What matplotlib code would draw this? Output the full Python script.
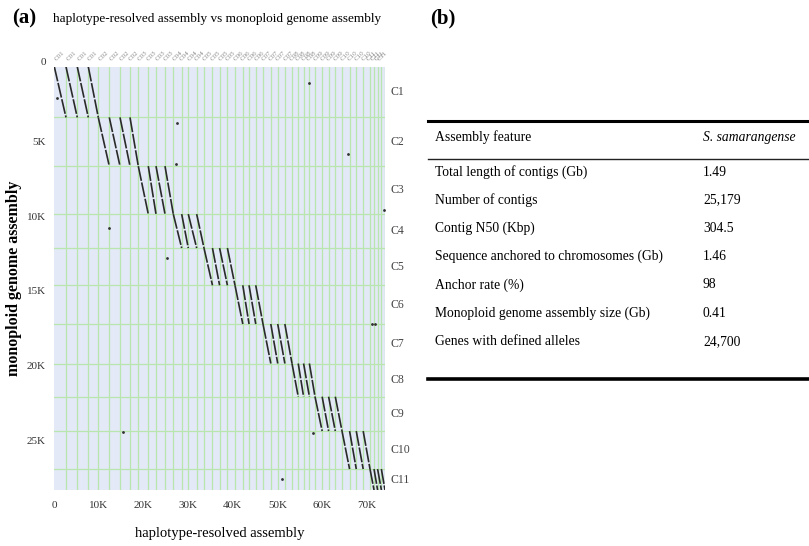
import numpy as np
import matplotlib
matplotlib.use("Agg")
import matplotlib.pyplot as plt
from matplotlib.lines import Line2D

# monoploid chromosome lengths (K anchors)
chr_names = ["C1", "C2", "C3", "C4", "C5", "C6", "C7", "C8", "C9", "C10", "C11"]
chr_len = [3.39, 3.26, 3.21, 2.27, 2.49, 2.59, 2.64, 2.22, 2.30, 2.54, 1.40]

# haplotype chromosome lengths (K), 4 haplotypes per chromosome
hap_len = [2.62, 2.53, 2.47, 2.24,
           2.47, 2.40, 2.24, 1.86,
           2.24, 1.73, 2.02, 1.86,
           1.88, 1.48, 1.88, 1.64,
           1.90, 1.60, 1.75, 1.70,
           1.75, 1.40, 1.50, 1.63,
           1.75, 1.55, 1.60, 1.60,
           1.40, 1.20, 1.30, 1.26,
           1.60, 1.45, 1.50, 1.50,
           1.70, 1.50, 1.55, 1.53,
           0.90, 0.80, 0.85, 0.81]
hap_labels = ["C%02d" % (i // 4 + 1) for i in range(44)]

# stray hits off the diagonal (x, y in K)
stray_x = [0.55, 27.4, 27.2, 57.0, 65.9, 12.3, 25.3, 71.2, 72.0, 15.3, 57.9, 51.1, 74.0]
stray_y = [2.07, 3.79, 6.50, 1.10, 5.86, 10.8, 12.8, 17.2, 17.2, 24.4, 24.5, 27.6, 9.6]

# table (b)
features = ["Total length of contigs (Gb)", "Number of contigs", "Contig N50 (Kbp)",
            "Sequence anchored to chromosomes (Gb)", "Anchor rate (%)",
            "Monoploid genome assembly size (Gb)", "Genes with defined alleles"]
values = ["1.49", "25,179", "304.5", "1.46", "98", "0.41", "24,700"]

plt.rcParams['font.family'] = ['Liberation Serif', 'DejaVu Serif']

fig = plt.figure(figsize=(8.09, 5.46), dpi=100)
W, H = 809, 546
ax = fig.add_axes([54.3 / W, 1 - 490 / H, (385 - 54.3) / W, (490 - 66.7) / H])

chr_edges = np.concatenate([[0], np.cumsum(chr_len)])
hap_edges = np.concatenate([[0], np.cumsum(hap_len)])

ax.set_facecolor("#e3e9f6")
for v in hap_edges[1:]:
    ax.axvline(v, color="#b9e6ae", lw=0.9, zorder=1)
for h in chr_edges[1:-1]:
    ax.axhline(h, color="#b9e6ae", lw=0.9, zorder=1)

# each haplotype aligns along the diagonal of its chromosome block
for i in range(44):
    c = i // 4
    ax.plot([hap_edges[i], hap_edges[i + 1]], [chr_edges[c], chr_edges[c + 1]],
            color="#2a2a2a", lw=1.2, linestyle=(0, (9, 1.0)), zorder=3,
            solid_capstyle="butt")

ax.scatter(stray_x, stray_y, s=1.0, color="#333333", zorder=3)

ax.set_xlim(0, hap_edges[-1])
ax.set_ylim(chr_edges[-1], 0)
for s in ax.spines.values():
    s.set_visible(False)

def kfmt(v):
    return "0" if v == 0 else "%dK" % v

xt = [0, 10, 20, 30, 40, 50, 60, 70]
yt = [0, 5, 10, 15, 20, 25]
ax.set_xticks(xt)
ax.set_xticklabels([kfmt(v) for v in xt], fontsize=8, color="#333333")
ax.set_yticks(yt)
ax.set_yticklabels([kfmt(v) for v in yt], fontsize=8, color="#333333")
ax.tick_params(axis="x", length=0, pad=8)
ax.tick_params(axis="y", length=0, pad=6)
ax.yaxis.get_ticklabels()[0].set_verticalalignment("bottom")

ax.set_xlabel("haplotype-resolved assembly", fontsize=10.5, labelpad=12)
ax.set_ylabel("monoploid genome assembly", fontsize=11.5, fontweight="bold")
ax.yaxis.set_label_coords(-0.097, 0.5)

# chromosome names on the right
for c in range(11):
    ax.text(hap_edges[-1] + 1.2, (chr_edges[c] + chr_edges[c + 1]) / 2, chr_names[c],
            fontsize=8.5, color="#444444", va="center", ha="left", clip_on=False)

# haplotype labels along the top
for i in range(44):
    ax.text((hap_edges[i] + hap_edges[i + 1]) / 2, 1.012, hap_labels[i],
            transform=ax.get_xaxis_transform(), rotation=45, fontsize=5,
            color="#8a8a8a", ha="center", va="bottom")

fig.text(12 / W, 1 - 18 / H, "(a)", fontsize=15, fontweight="bold", va="center")
fig.text(53 / W, 1 - 19 / H, "haplotype-resolved assembly vs monoploid genome assembly",
         fontsize=9.5, va="center")
fig.text(430 / W, 1 - 18 / H, "(b)", fontsize=15, fontweight="bold", va="center")

# table panel drawn in pixel space
tb = fig.add_axes([0, 0, 1, 1])
tb.set_xlim(0, W)
tb.set_ylim(H, 0)
tb.axis("off")
tb.add_line(Line2D([428, 808], [121, 121], color="black", lw=2.2))
tb.add_line(Line2D([428, 808], [159, 159], color="#222222", lw=1.0))
tb.add_line(Line2D([428, 808], [379, 379], color="black", lw=2.6))
tb.text(435, 137, "Assembly feature", fontsize=9.8, va="center")
tb.text(703, 137, "S. samarangense", fontsize=9.8, va="center", style="italic")
row_y = [172.3, 200, 228.3, 256.7, 285, 313.3, 341.7]
for f, v, y in zip(features, values, row_y):
    tb.text(435, y, f, fontsize=9.8, va="center")
    tb.text(703, y, v, fontsize=9.8, va="center")

fig.savefig("out.png", dpi=100)
